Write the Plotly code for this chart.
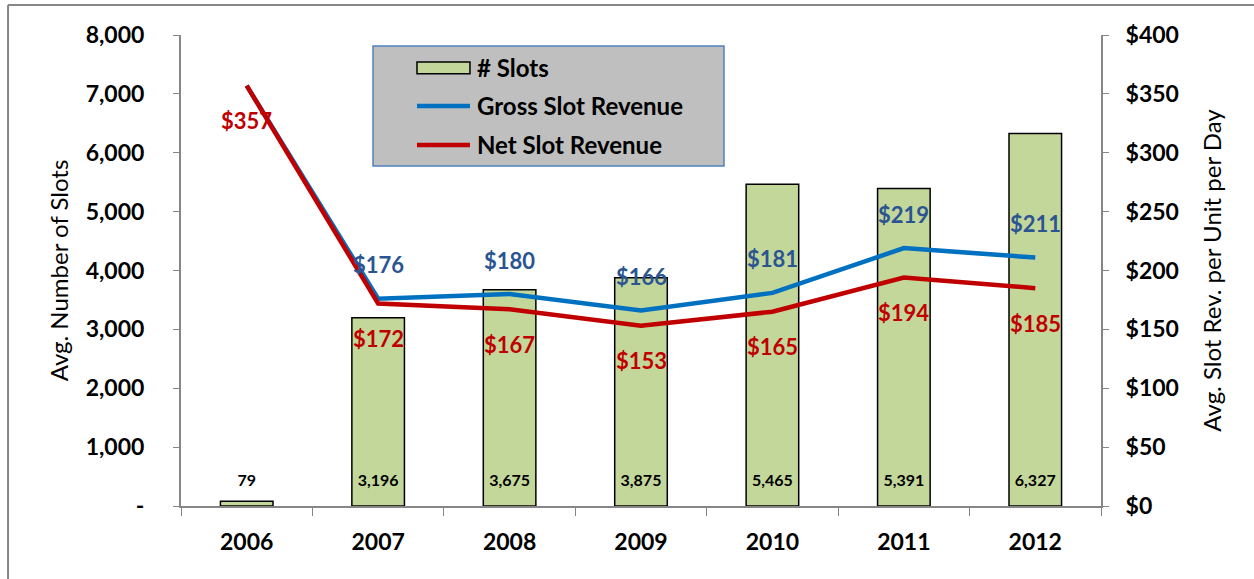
import plotly.graph_objects as go

# data
years = ["2006", "2007", "2008", "2009", "2010", "2011", "2012"]
slots = [79, 3196, 3675, 3875, 5465, 5391, 6327]
gross_rev = [357, 176, 180, 166, 181, 219, 211]
net_rev = [357, 172, 167, 153, 165, 194, 185]

left_ticks = [0, 1000, 2000, 3000, 4000, 5000, 6000, 7000, 8000]
left_labels = ["-", "1,000", "2,000", "3,000", "4,000", "5,000", "6,000", "7,000", "8,000"]
right_ticks = [0, 50, 100, 150, 200, 250, 300, 350, 400]
right_labels = ["$" + str(v) for v in right_ticks]

series_names = ["# Slots", "Gross Slot Revenue", "Net Slot Revenue"]

FONT = "Lato, 'Open Sans', sans-serif"
BAR_GREEN = "#C4D79B"
LINE_BLUE = "#0070C0"
LINE_RED = "#C00000"
LABEL_BLUE = "#2A5592"
AXIS_GRAY = "#868686"

fig = go.Figure()

fig.add_trace(go.Bar(
    x=years, y=slots, name=series_names[0], width=0.4,
    marker=dict(color=BAR_GREEN, line=dict(color="black", width=1.5)),
    hoverinfo="skip", showlegend=False,
))

# slot counts written near the base of each bar
fig.add_trace(go.Scatter(
    x=years, y=[400] * len(years), mode="text",
    text=[f"{v:,}" for v in slots],
    textfont=dict(family=FONT, size=16, color="black", weight="bold"),
    showlegend=False, hoverinfo="skip",
))

fig.add_trace(go.Scatter(
    x=years, y=gross_rev, name=series_names[1], yaxis="y2",
    mode="lines", line=dict(color=LINE_BLUE, width=4.5), showlegend=False,
))
fig.add_trace(go.Scatter(
    x=years, y=net_rev, name=series_names[2], yaxis="y2",
    mode="lines", line=dict(color=LINE_RED, width=4.5), showlegend=False,
))

annotations = []
for i in range(len(years)):
    if i > 0:  # 2006 gross label is hidden behind the net one in the original
        annotations.append(dict(
            x=i, y=gross_rev[i], xref="x", yref="y2", yshift=34,
            text=f"${gross_rev[i]}", showarrow=False,
            font=dict(family=FONT, size=22, color=LABEL_BLUE, weight="bold"),
        ))
    annotations.append(dict(
        x=i, y=net_rev[i], xref="x", yref="y2", yshift=-35,
        text=f"${net_rev[i]}", showarrow=False,
        font=dict(family=FONT, size=22, color=LINE_RED, weight="bold"),
    ))

# legend box drawn by hand (Excel-style wide swatch)
leg_x_sym0, leg_x_sym1, leg_x_txt = 0.2565, 0.3141, 0.3196
leg_rows = [0.930, 0.8493, 0.7665]
for name, yy in zip(series_names, leg_rows):
    annotations.append(dict(
        x=leg_x_txt, y=yy, xref="paper", yref="paper", xanchor="left",
        yanchor="middle", text=name, showarrow=False,
        font=dict(family=FONT, size=24, color="black", weight="bold"),
    ))

shapes = [
    dict(type="rect", xref="paper", yref="paper", x0=0.2087, x1=0.5902,
         y0=0.7219, y1=0.9766, fillcolor="#BFBFBF",
         line=dict(color="#4F81BD", width=1.5), layer="below"),
    dict(type="rect", xref="paper", yref="paper", x0=leg_x_sym0, x1=leg_x_sym1,
         y0=leg_rows[0] - 0.0125, y1=leg_rows[0] + 0.0125, fillcolor=BAR_GREEN,
         line=dict(color="black", width=1.5)),
    dict(type="line", xref="paper", yref="paper", x0=leg_x_sym0, x1=leg_x_sym1,
         y0=leg_rows[1], y1=leg_rows[1], line=dict(color=LINE_BLUE, width=4.5)),
    dict(type="line", xref="paper", yref="paper", x0=leg_x_sym0, x1=leg_x_sym1,
         y0=leg_rows[2], y1=leg_rows[2], line=dict(color=LINE_RED, width=4.5)),
    # outer frame (only left and top edges show in the original)
    dict(type="line", xref="paper", yref="paper", x0=-0.1880, x1=1.17,
         y0=1.0637, y1=1.0637, line=dict(color=AXIS_GRAY, width=2)),
    dict(type="line", xref="paper", yref="paper", x0=-0.1880, x1=-0.1880,
         y0=1.0637, y1=-0.16, line=dict(color=AXIS_GRAY, width=2)),
]

fig.update_layout(
    width=1254, height=579,
    margin=dict(l=181, r=153, t=35, b=73),
    paper_bgcolor="white", plot_bgcolor="white",
    font=dict(family=FONT, color="black"),
    showlegend=False,
    xaxis=dict(
        type="category", tickson="boundaries", ticks="outside", ticklen=8,
        tickcolor=AXIS_GRAY, showline=True, linecolor=AXIS_GRAY, linewidth=2,
        showgrid=False, tickfont=dict(family=FONT, size=23, weight="bold"),
        ticklabelstandoff=14, range=[-0.5, 6.5],
    ),
    yaxis=dict(
        range=[0, 8000], tickvals=left_ticks, ticktext=left_labels,
        ticks="outside", ticklen=6, tickcolor=AXIS_GRAY, showline=True,
        linecolor=AXIS_GRAY, linewidth=2, showgrid=False, zeroline=False,
        tickfont=dict(family=FONT, size=23, weight="bold"), ticklabelstandoff=24,
        title=dict(text="Avg. Number of Slots", font=dict(family=FONT, size=24),
                   standoff=10),
    ),
    yaxis2=dict(
        overlaying="y", side="right",
        range=[0, 400], tickvals=right_ticks, ticktext=right_labels,
        ticks="outside", ticklen=6, tickcolor=AXIS_GRAY, showline=True,
        linecolor=AXIS_GRAY, linewidth=2, showgrid=False, zeroline=False,
        tickfont=dict(family=FONT, size=23, weight="bold"), ticklabelstandoff=12,
        title=dict(text="Avg. Slot Rev. per Unit per Day", font=dict(family=FONT, size=24),
                   standoff=26),
    ),
    annotations=annotations,
    shapes=shapes,
)

# drop the default page margin so the figure sits at the window origin
fig.write_html("out.html", config={"displayModeBar": False},
               post_script="document.body.style.margin='0';")
